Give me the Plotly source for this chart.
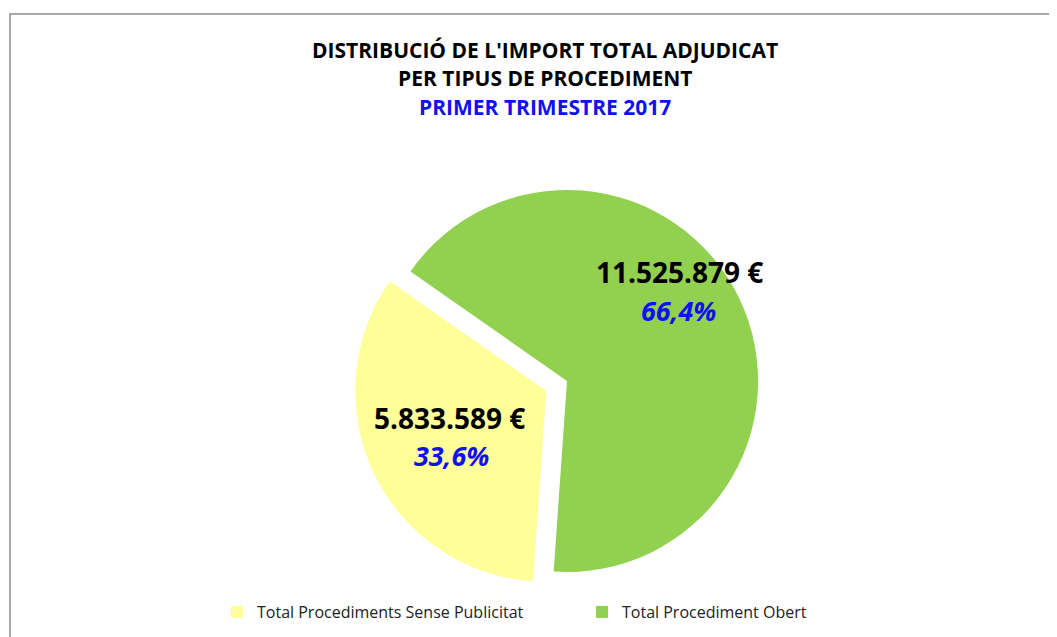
import plotly.graph_objects as go

# ---- data ----
labels = ["Total Procediments Sense Publicitat", "Total Procediment Obert"]
values = [5833589, 11525879]
colors = ["#FFFF99", "#92D050"]
title_lines = ["DISTRIBUCIÓ DE L'IMPORT TOTAL ADJUDICAT", "PER TIPUS DE PROCEDIMENT", "PRIMER TRIMESTRE 2017"]

W, H = 1057, 637
OFF = 8  # page body margin
FONT = "Open Sans"
BLUE = "#1010F0"

total = sum(values)

def fmt_eur(v):
    return f"{v:,.0f}".replace(",", ".") + " €"

def fmt_pct(v):
    return f"{v / total * 100:.1f}".replace(".", ",") + "%"

def px(x, y):
    return (x - OFF) / W, 1 - (y - OFF) / H

fig = go.Figure()
dx0, dy1 = px(353, 167)
dx1, dy0 = px(781, 595)
fig.add_trace(go.Pie(
    labels=labels,
    values=values,
    marker=dict(colors=colors, line=dict(width=0)),
    sort=False,
    direction="clockwise",
    rotation=184,
    pull=[0.12, 0],
    textinfo="none",
    hoverinfo="label+value+percent",
    domain=dict(x=[dx0, dx1], y=[dy0, dy1]),
))

annotations = []
# title lines
title_pos = [(545, 50, "black"), (545, 78, "black"), (545, 107, BLUE)]
for txt, (x, y, c) in zip(title_lines, title_pos):
    ax, ay = px(x, y)
    annotations.append(dict(x=ax, y=ay, xref="paper", yref="paper", text=f"<b>{txt}</b>",
                            showarrow=False, xanchor="center", yanchor="middle",
                            font=dict(family=FONT, size=21, color=c)))

# slice labels
label_pos = [((449, 418), (451, 455)), ((679, 272), (678, 310))]
for v, ((x1, y1), (x2, y2)) in zip(values, label_pos):
    ax, ay = px(x1, y1)
    annotations.append(dict(x=ax, y=ay, xref="paper", yref="paper", text=f"<b>{fmt_eur(v)}</b>",
                            showarrow=False, xanchor="center", yanchor="middle",
                            font=dict(family=FONT, size=28, color="black")))
    ax, ay = px(x2, y2)
    annotations.append(dict(x=ax, y=ay, xref="paper", yref="paper", text=f"<b><i>{fmt_pct(v)}</i></b>",
                            showarrow=False, xanchor="center", yanchor="middle",
                            font=dict(family=FONT, size=27, color=BLUE)))

lx, ly = px(237 - 20, 612)
bx0, by1 = px(10, 14)
fig.update_layout(
    width=W, height=H,
    margin=dict(l=0, r=0, t=0, b=0),
    paper_bgcolor="white",
    plot_bgcolor="white",
    font=dict(family=FONT, color="#222222"),
    showlegend=True,
    legend=dict(orientation="h", x=lx, xanchor="left", y=ly, yanchor="middle",
                font=dict(family=FONT, size=16, color="#222222"),
                entrywidth=320, traceorder="normal"),
    annotations=annotations,
    shapes=[dict(type="rect", xref="paper", yref="paper",
                 x0=bx0, x1=1.05, y0=-0.05, y1=by1,
                 line=dict(color="#8C8C8C", width=1.5), fillcolor="rgba(0,0,0,0)", layer="below")],
)

fig.write_html("out.html")
